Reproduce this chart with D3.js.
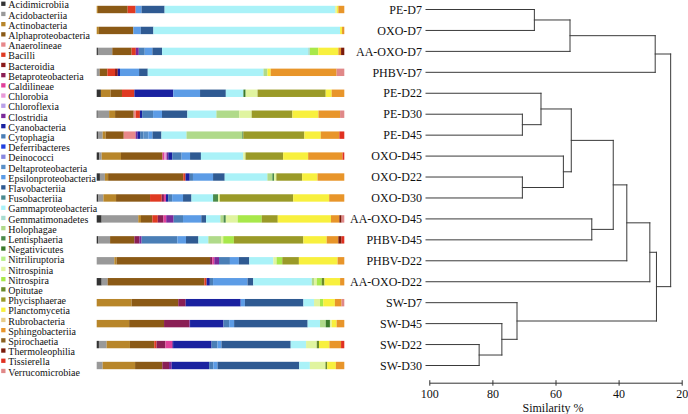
<!DOCTYPE html>
<html><head><meta charset="utf-8">
<script src="https://cdn.jsdelivr.net/npm/d3@7"></script>
<style>
body{margin:0;background:#fff}
svg{display:block}
svg text{font-family:"Liberation Serif","DejaVu Serif","Times New Roman",serif;fill:#111}
</style>
</head><body>
<svg id="chart" width="688" height="414" font-family="Liberation Serif, DejaVu Serif, serif"></svg>
<script>
const categories = ["Acidimicrobiia","Acidobacteriia","Actinobacteria","Alphaproteobacteria","Anaerolineae","Bacilli","Bacteroidia","Betaproteobacteria","Caldilineae","Chlorobia","Chloroflexia","Clostridia","Cyanobacteria","Cytophagia","Deferribacteres","Deinococci","Deltaproteobacteria","Epsilonproteobacteria","Flavobacteriia","Fusobacteriia","Gammaproteobacteria","Gemmatimonadetes","Holophagae","Lentisphaeria","Negativicutes","Nitriliruptoria","Nitrospinia","Nitrospira","Opitutae","Phycisphaerae","Planctomycetia","Rubrobacteria","Sphingobacteriia","Spirochaetia","Thermoleophilia","Tissierella","Verrucomicrobiae"];
const colors = ["#333333","#999999","#B8862A","#8B5A16","#E8888A","#E03A22","#8B1A1A","#8A1F55","#E0409A","#E89AD8","#B8A0E8","#7A2A9A","#1A22A0","#4A7EB6","#2040E0","#8888E0","#5A90C8","#5C9CE6","#2F5A92","#4A8A90","#AAF2F8","#A8DCD0","#B0DA8A","#4A8A4A","#3A7A2A","#B8F08A","#E0F4A0","#A8E84A","#6A8A2A","#9A9A28","#F8F03E","#E8CC88","#E8952A","#8A6020","#7A1A0A","#E03020","#E08888"];
const samples = ["PE-D7","OXO-D7","AA-OXO-D7","PHBV-D7","PE-D22","PE-D30","PE-D45","OXO-D45","OXO-D22","OXO-D30","AA-OXO-D45","PHBV-D45","PHBV-D22","AA-OXO-D22","SW-D7","SW-D45","SW-D22","SW-D30"];

const PE_D7 = [["Actinobacteria",0.5],["Alphaproteobacteria",12],["Bacilli",3.2],["Epsilonproteobacteria",2.4],["Flavobacteriia",9.3],["Gammaproteobacteria",68.8],["Nitrospinia",0.7],["Planctomycetia",0.6],["Sphingobacteriia",2.4]];
const OXO_D7 = [["Actinobacteria",0.9],["Alphaproteobacteria",13.9],["Epsilonproteobacteria",3],["Flavobacteriia",5.1],["Gammaproteobacteria",75.4],["Planctomycetia",0.8],["Sphingobacteriia",0.9]];
const AA_OXO_D7 = [["Acidimicrobiia",0.5],["Acidobacteriia",5.8],["Alphaproteobacteria",7.8],["Bacilli",1.7],["Clostridia",1.2],["Cytophagia",2.4],["Epsilonproteobacteria",3.1],["Flavobacteriia",3.9],["Gammaproteobacteria",59],["Gemmatimonadetes",0.7],["Nitrospira",3.4],["Planctomycetia",8.1],["Sphingobacteriia",1.1],["Thermoleophilia",1.3]];
const PHBV_D7 = [["Acidobacteriia",1.2],["Alphaproteobacteria",3.1],["Bacilli",3.1],["Bacteroidia",1.1],["Cyanobacteria",0.9],["Epsilonproteobacteria",7.7],["Flavobacteriia",3.5],["Gammaproteobacteria",46.7],["Holophagae",1.6],["Planctomycetia",1.3],["Sphingobacteriia",26.6],["Verrucomicrobiae",3.1]];
const PE_D22 = [["Acidimicrobiia",1.7],["Actinobacteria",3.9],["Alphaproteobacteria",4.6],["Bacilli",5],["Cyanobacteria",15.7],["Epsilonproteobacteria",10.8],["Flavobacteriia",10.4],["Gammaproteobacteria",7.1],["Negativicutes",0.9],["Nitrospinia",4.8],["Phycisphaerae",27.5],["Planctomycetia",2.4],["Sphingobacteriia",5.1]];
const PE_D30 = [["Acidimicrobiia",0.4],["Acidobacteriia",4.6],["Actinobacteria",2.4],["Alphaproteobacteria",7.5],["Anaerolineae",0.8],["Bacilli",1.7],["Cyanobacteria",0.9],["Cytophagia",4.4],["Epsilonproteobacteria",3.6],["Flavobacteriia",10.2],["Gammaproteobacteria",11.7],["Holophagae",9.2],["Nitrospinia",5],["Phycisphaerae",16.4],["Planctomycetia",10.5],["Sphingobacteriia",8.7],["Verrucomicrobiae",1.7]];
const PE_D45 = [["Acidimicrobiia",0.5],["Acidobacteriia",1.9],["Actinobacteria",1.2],["Alphaproteobacteria",7.3],["Anaerolineae",4.8],["Clostridia",0.7],["Cyanobacteria",1.1],["Cytophagia",1.3],["Deltaproteobacteria",2],["Epsilonproteobacteria",1.7],["Flavobacteriia",3.6],["Gammaproteobacteria",10.1],["Holophagae",22.5],["Lentisphaeria",0.4],["Phycisphaerae",24.6],["Planctomycetia",6.6],["Sphingobacteriia",7.5],["Tissierella",2]];
const OXO_D45 = [["Acidimicrobiia",1.1],["Acidobacteriia",0.9],["Actinobacteria",7.8],["Alphaproteobacteria",16.8],["Caldilineae",0.8],["Chlorobia",0.8],["Clostridia",0.7],["Cyanobacteria",1.6],["Cytophagia",3.8],["Epsilonproteobacteria",3.4],["Flavobacteriia",4.4],["Gammaproteobacteria",17.1],["Nitrospinia",0.9],["Phycisphaerae",15.2],["Planctomycetia",10.1],["Sphingobacteriia",13.9],["Tissierella",0.7]];
const OXO_D22 = [["Acidimicrobiia",1.3],["Acidobacteriia",2],["Actinobacteria",1.3],["Alphaproteobacteria",30.3],["Bacilli",0.9],["Cyanobacteria",1.7],["Cytophagia",1.3],["Epsilonproteobacteria",8.1],["Flavobacteriia",4.7],["Gammaproteobacteria",17.2],["Holophagae",2],["Lentisphaeria",0.7],["Nitrospinia",0.9],["Phycisphaerae",10.4],["Planctomycetia",6.2],["Sphingobacteriia",10.8]];
const OXO_D30 = [["Acidimicrobiia",0.7],["Acidobacteriia",2],["Actinobacteria",5.1],["Alphaproteobacteria",13.7],["Bacilli",4.7],["Betaproteobacteria",0.9],["Caldilineae",0.8],["Cyanobacteria",0.9],["Cytophagia",1.6],["Epsilonproteobacteria",4.4],["Flavobacteriia",3.4],["Gammaproteobacteria",8.7],["Lentisphaeria",2],["Nitrospinia",0.7],["Phycisphaerae",29.6],["Planctomycetia",14.5],["Sphingobacteriia",6.1]];
const AA_OXO_D45 = [["Acidimicrobiia",2],["Acidobacteriia",14.8],["Actinobacteria",1.1],["Alphaproteobacteria",4.6],["Bacilli",2.2],["Betaproteobacteria",2.3],["Caldilineae",1.1],["Clostridia",3],["Cytophagia",3.8],["Epsilonproteobacteria",7.4],["Flavobacteriia",1.9],["Gammaproteobacteria",5.8],["Holophagae",1.3],["Lentisphaeria",0.9],["Nitrospinia",4.8],["Nitrospira",9.7],["Phycisphaerae",6.5],["Planctomycetia",21.5],["Sphingobacteriia",3.4],["Thermoleophilia",0.9],["Verrucomicrobiae",1.1]];
const PHBV_D45 = [["Acidimicrobiia",0.7],["Acidobacteriia",4.7],["Alphaproteobacteria",9.8],["Betaproteobacteria",2],["Clostridia",0.9],["Cytophagia",14.4],["Epsilonproteobacteria",3.5],["Flavobacteriia",5],["Gammaproteobacteria",4],["Holophagae",5.1],["Nitrospinia",0.9],["Nitrospira",4.3],["Phycisphaerae",28],["Planctomycetia",9.4],["Sphingobacteriia",4.7],["Thermoleophilia",1.3],["Tissierella",1.1]];
const PHBV_D22 = [["Acidobacteriia",7.1],["Actinobacteria",0.9],["Alphaproteobacteria",37.7],["Betaproteobacteria",0.9],["Caldilineae",0.8],["Clostridia",1.9],["Cytophagia",4.4],["Epsilonproteobacteria",3.6],["Flavobacteriia",4.2],["Gammaproteobacteria",9.7],["Nitrospinia",1.3],["Nitrospira",2.3],["Phycisphaerae",6.7],["Planctomycetia",15.6],["Sphingobacteriia",2.7]];
const AA_OXO_D22 = [["Acidimicrobiia",2],["Acidobacteriia",2.4],["Alphaproteobacteria",39],["Bacilli",0.9],["Cyanobacteria",1.3],["Cytophagia",1.3],["Epsilonproteobacteria",13.9],["Flavobacteriia",2.3],["Gammaproteobacteria",23.6],["Holophagae",0.9],["Nitrospinia",1.1],["Nitrospira",2],["Opitutae",1.1],["Planctomycetia",6.3],["Sphingobacteriia",1.7]];
const SW_D7 = [["Actinobacteria",14.1],["Alphaproteobacteria",18.8],["Betaproteobacteria",3],["Cyanobacteria",22.2],["Epsilonproteobacteria",1.7],["Flavobacteriia",23.6],["Gammaproteobacteria",4.3],["Nitrospinia",2.4],["Nitrospira",1.3],["Planctomycetia",4.7],["Sphingobacteriia",2.7],["Verrucomicrobiae",1.1]];
const SW_D45 = [["Actinobacteria",13.1],["Alphaproteobacteria",14.1],["Betaproteobacteria",10.2],["Clostridia",0.3],["Cyanobacteria",13.5],["Cytophagia",2.3],["Epsilonproteobacteria",2],["Flavobacteriia",29.7],["Gammaproteobacteria",5],["Holophagae",2.3],["Negativicutes",1.7],["Nitrospinia",0.7],["Planctomycetia",2],["Sphingobacteriia",3.1]];
const SW_D22 = [["Acidimicrobiia",0.9],["Acidobacteriia",3.1],["Actinobacteria",9.4],["Alphaproteobacteria",9.8],["Bacilli",0.9],["Betaproteobacteria",3.6],["Caldilineae",2.7],["Clostridia",0.4],["Cyanobacteria",15.5],["Cytophagia",2.4],["Epsilonproteobacteria",1.6],["Flavobacteriia",27.9],["Gammaproteobacteria",6.2],["Nitrospinia",4.3],["Opitutae",0.9],["Planctomycetia",4.2],["Sphingobacteriia",4.7],["Tissierella",1.3]];
const SW_D30 = [["Acidobacteriia",2.4],["Actinobacteria",13.1],["Alphaproteobacteria",11],["Betaproteobacteria",2.7],["Clostridia",1.1],["Cyanobacteria",15.1],["Cytophagia",1.7],["Epsilonproteobacteria",1.7],["Flavobacteriia",33],["Gammaproteobacteria",4.3],["Nitrospinia",6.3],["Opitutae",0.7],["Planctomycetia",3.5],["Sphingobacteriia",3.4]];

const bars = [PE_D7,OXO_D7,AA_OXO_D7,PHBV_D7,PE_D22,PE_D30,PE_D45,OXO_D45,OXO_D22,OXO_D30,AA_OXO_D45,PHBV_D45,PHBV_D22,AA_OXO_D22,SW_D7,SW_D45,SW_D22,SW_D30];

// linkage: [childA, childB, similarity %]; numbers refer to earlier merges
const merges = [
  ["PE-D7","OXO-D7",66.7],
  [0,"AA-OXO-D7",55.4],
  [1,"PHBV-D7",28.4],
  ["PE-D30","PE-D45",70.5],
  ["PE-D22",3,64.6],
  ["OXO-D22","OXO-D30",70.5],
  ["OXO-D45",5,57.5],
  [4,6,55.0],
  ["AA-OXO-D45","PHBV-D45",48.5],
  [7,8,41.7],
  [9,"PHBV-D22",37.4],
  [10,"AA-OXO-D22",30.1],
  ["SW-D22","SW-D30",84.2],
  ["SW-D45",12,77.0],
  ["SW-D7",13,72.2],
  [11,14,28.0],
  [2,15,23.5]
];
const simTicks = [100,80,60,40,20];

const FONT = "'Liberation Serif','DejaVu Serif','Times New Roman',serif";
const svg = d3.select("#chart");
const color = d3.scaleOrdinal().domain(categories).range(colors);

// ---- legend ----
const leg = svg.append("g").selectAll("g").data(categories).join("g")
  .attr("transform",(d,i)=>`translate(0,${8.3 + i*10.2})`);
leg.append("rect").attr("x",1.2).attr("y",-6.7).attr("width",4.3).attr("height",4.3).attr("fill",d=>color(d));
leg.append("text").attr("x",8.3).attr("y",0).style("font-family",FONT).style("font-size","10px").text(d=>d);

// ---- stacked bars ----
const table = samples.map((s,i)=>{
  const row = {sample:s};
  categories.forEach(c=>row[c]=0);
  bars[i].forEach(([c,v])=>row[c]=v);
  return row;
});
const stack = d3.stack().keys(categories).offset(d3.stackOffsetExpand);
const series = stack(table);
const x = d3.scaleLinear().domain([0,1]).range([96.7,344.3]);
const y = d3.scalePoint().domain(samples).range([9.5,365.5]);
const bh = 7.4;
svg.append("g").selectAll("g").data(series).join("g")
  .attr("fill",d=>color(d.key))
  .selectAll("rect").data(d=>d.filter(p=>p[1]-p[0]>0)).join("rect")
  .attr("x",p=>x(p[0])).attr("width",p=>x(p[1])-x(p[0]))
  .attr("y",p=>y(p.data.sample)-bh/2).attr("height",bh);

// ---- sample labels ----
svg.append("g").selectAll("text").data(samples).join("text")
  .attr("x",422).attr("y",d=>y(d)).attr("dy","0.35em")
  .attr("text-anchor","end").style("font-family",FONT).style("font-size","12px").text(d=>d);

// ---- dendrogram ----
const sx = d3.scaleLinear().domain([100,20]).range([429.3,681.7]);
const leafX = sx(100) - 3.3;
const nodes = [];
const getNode = k => typeof k === "number" ? nodes[k] : {x:leafX, y:y(k)};
const seg = [];
merges.forEach(([a,b,s])=>{
  const na = getNode(a), nb = getNode(b);
  const n = {x:sx(s), y:(na.y+nb.y)/2};
  seg.push([na.x,na.y,n.x,na.y],[nb.x,nb.y,n.x,nb.y],[n.x,na.y,n.x,nb.y]);
  nodes.push(n);
});
svg.append("g").selectAll("line").data(seg).join("line")
  .attr("x1",d=>d[0]).attr("y1",d=>d[1]).attr("x2",d=>d[2]).attr("y2",d=>d[3])
  .attr("stroke","#3a3a3a").attr("stroke-width",1).attr("stroke-linecap","square");

// ---- axis ----
const ax = svg.append("g").attr("transform","translate(0,382.7)")
  .call(d3.axisBottom(sx).tickValues(simTicks).tickSizeInner(3).tickSizeOuter(0).tickPadding(3.6));
ax.attr("font-family",null);
ax.select(".domain").attr("stroke","#333");
ax.selectAll(".tick line").attr("y1",-2.5).attr("y2",3).attr("stroke","#333");
ax.selectAll(".tick text").style("font-size","12px").style("font-family",FONT).attr("fill","#111");
svg.append("text").attr("x",553).attr("y",407.4).attr("dy","0.35em").attr("text-anchor","middle")
  .style("font-family",FONT).style("font-size","12px").text("Similarity %");
</script>
</body></html>
